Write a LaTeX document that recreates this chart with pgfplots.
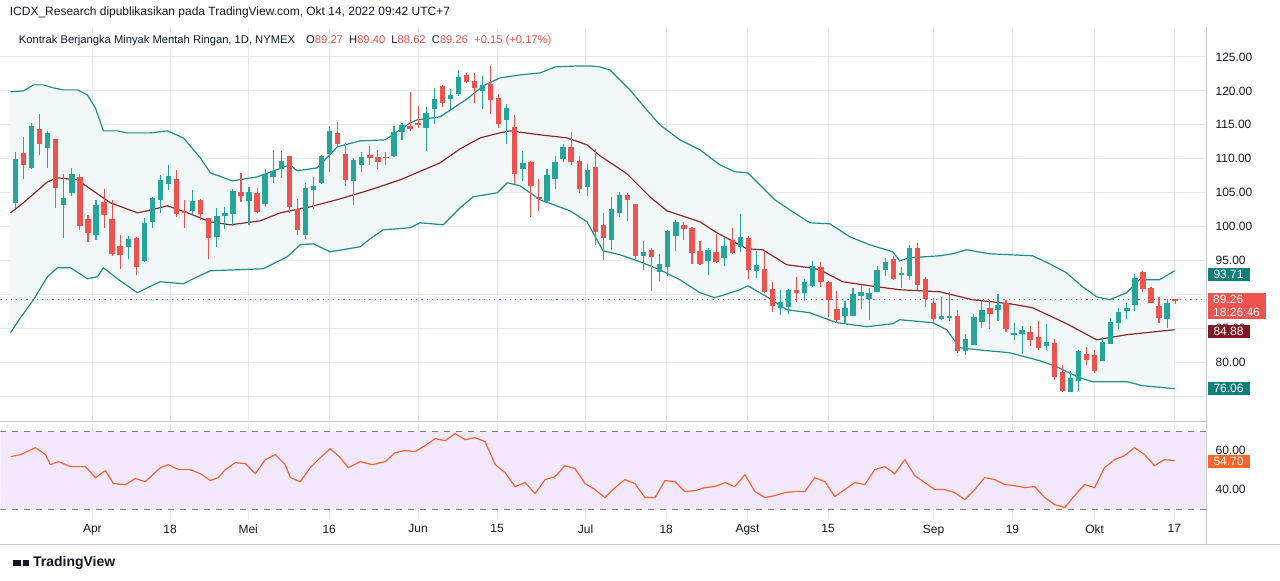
\documentclass[border=0pt]{standalone}
\usepackage{pgfplots}
\pgfplotsset{compat=1.18}
\usepackage{pgfplotstable}
\usepgfplotslibrary{fillbetween}
\usepackage{fontspec}
\setmainfont{Liberation Sans}
\definecolor{up}{RGB}{38,166,154}
\definecolor{dn}{RGB}{239,83,80}
\definecolor{bb}{RGB}{32,140,140}
\definecolor{bbfill}{RGB}{242,248,248}
\definecolor{ma}{RGB}{140,40,40}
\definecolor{mabox}{RGB}{128,25,34}
\definecolor{bbbox}{RGB}{18,128,122}
\definecolor{gridc}{RGB}{228,234,240}
\definecolor{txt}{RGB}{19,23,34}
\definecolor{rsi}{RGB}{255,100,50}
\definecolor{rsifill}{RGB}{243,232,253}
\definecolor{rsibox}{RGB}{255,100,40}
% pixel readings: i top bottom high low
\pgfplotstableread{
i top bot hi lo
1 159 203 152 208
3 126 168 123 169
5 133 148 131 168
7 198 205 174 238
8 174 193 168 196
11 205 235 200 240
15 239 247 236 259
17 223 261 218 262
18 198 222 197 228
19 180 200 175 213
20 176 184 165 190
23 201 211 190 215
26 216 237 208 247
27 213 216 207 229
28 191 214 189 226
30 192 201 187 225
32 174 204 169 207
33 171 177 150 183
34 161 169 151 178
37 188 235 183 239
38 186 190 177 209
39 156 183 155 184
40 131 154 126 172
43 160 181 158 205
44 157 165 152 172
48 132 156 126 157
49 125 132 123 140
52 113 128 107 151
53 99 109 88 124
55 95 99 89 111
56 77 94 70 96
59 85 91 76 109
62 108 120 104 144
64 163 169 151 181
67 175 201 169 202
68 162 179 156 189
69 147 159 144 162
72 170 187 164 196
75 209 240 197 250
76 195 213 192 217
79 252 256 241 270
81 264 272 254 281
82 231 267 230 276
83 222 236 220 251
87 250 261 248 275
89 246 258 237 266
91 237 247 214 252
93 265 271 251 278
96 302 308 290 315
97 290 307 289 314
99 282 293 279 301
100 266 286 261 287
104 308 316 301 323
105 294 316 288 316
106 292 296 285 309
107 293 299 288 320
108 270 292 266 292
109 262 270 258 276
111 273 275 267 288
112 248 276 245 280
116 316 319 297 320
117 316 318 292 321
119 339 351 334 355
120 317 345 314 345
121 310 322 301 328
123 305 310 294 321
125 333 335 323 340
126 330 334 326 354
129 342 346 324 350
132 378 392 371 392
133 351 381 350 391
136 342 361 337 361
137 322 344 318 344
138 312 323 308 329
139 308 311 303 319
140 278 305 274 311
144 303 319 299 328
}\greentab
\pgfplotstableread{
i top bot hi lo
2 153 165 137 179
4 129 144 114 155
6 139 188 139 208
9 177 226 174 230
10 219 233 215 242
12 202 215 189 228
13 219 254 200 256
14 246 255 235 269
16 238 267 237 275
21 179 214 170 217
22 211 213 200 228
24 200 214 199 220
25 218 238 218 259
29 192 196 173 202
31 193 212 188 213
35 156 207 156 213
36 209 230 199 235
41 133 144 122 147
42 154 180 143 186
45 155 158 146 165
46 157 162 150 169
47 157 158 152 165
50 126 129 92 131
51 123 125 106 128
54 86 103 85 107
57 75 82 73 83
58 81 88 73 103
60 84 100 66 114
61 98 124 94 128
63 127 174 115 184
65 162 186 161 217
66 197 199 179 211
70 147 162 132 165
71 161 189 156 193
73 167 232 149 245
74 225 238 213 260
77 195 200 193 221
78 204 256 204 259
80 250 257 248 291
84 225 229 222 240
85 228 253 227 264
86 251 264 241 265
88 252 262 234 263
90 240 253 228 254
92 238 270 236 279
94 269 292 250 293
95 289 306 282 312
98 290 293 277 302
101 267 282 262 287
102 282 300 281 317
103 309 320 291 323
110 259 279 256 280
113 248 285 243 290
114 279 299 277 307
115 303 319 298 322
118 316 351 310 353
122 308 314 300 329
124 303 329 300 332
127 332 340 326 346
128 337 348 321 350
130 343 377 339 380
131 372 391 365 392
134 354 360 347 365
135 355 371 350 373
141 272 289 271 292
142 288 303 287 303
143 306 318 297 323
145 300 300.5 299 304
}\redtab
\pgfplotstableread{
x y
10 92
23 91
33 85
43 85
53 88
63 90
77 90
87 95
95 108
103 131
117 131
127 133
150 133
167 131
183 138
200 158
210 173
232 181
257 177
290 165
297 171
317 168
337 147
360 141
385 140
410 123
417 120
440 117
467 99
483 86
500 78
520 75
540 73
555 67
580 66
590 66
600 67
610 70
620 80
630 90
645 108
660 125
680 140
700 150
720 165
735 172
748 173
760 185
775 200
790 210
810 223
830 224
850 237
870 245
893 252
900 261
910 258
940 256
953 254
967 250
990 254
1033 256
1050 264
1067 273
1083 287
1097 297
1110 300
1127 293
1140 280
1160 280
1175 271
}\uppertab
\pgfplotstableread{
x y
10 333
20 318
33 300
47 277
57 268
70 268
87 279
97 277
103 268
117 279
137 293
147 288
160 282
183 284
193 279
210 271
263 269
287 257
300 245
313 244
330 252
360 247
370 239
383 230
410 228
420 223
443 225
460 208
473 197
497 193
507 183
520 186
540 200
570 211
587 222
603 251
620 255
640 262
660 270
680 280
700 293
715 298
740 290
748 286
767 297
787 310
810 313
837 323
867 327
893 324
900 320
933 323
947 330
960 348
977 350
1010 353
1040 361
1057 367
1080 378
1093 382
1127 382
1143 386
1175 389
}\lowertab
\pgfplotstableread{
x y
10 213
23 203
47 182
57 178
77 180
97 194
110 203
137 213
147 211
167 206
187 213
210 222
230 225
260 221
280 213
310 207
340 199
370 190
400 180
440 163
460 149
480 138
500 133
510 131
540 135
567 138
587 145
600 156
627 174
650 197
667 211
700 222
717 233
747 249
763 250
787 265
810 268
820 270
843 282
870 286
900 290
940 292
973 300
1010 304
1033 308
1067 324
1097 340
1127 335
1175 330
}\matab
\pgfplotstableread{
x y
10 457
20 455
35 448
45 455
50 465
58 462
70 467
85 467
95 478
105 471
113 484
125 485
135 479
145 482
160 468
168 465
178 470
190 470
200 474
210 481
218 478
225 470
235 463
245 464
255 474
265 460
275 455
285 465
290 478
300 482
310 468
320 458
330 449
340 458
348 468
360 462
372 465
385 462
395 453
405 451
415 452
425 446
435 439
445 441
455 434
465 440
475 438
485 442
495 465
505 473
515 487
525 483
535 494
545 480
555 477
565 466
575 469
585 484
595 490
605 498
615 488
625 480
635 484
645 498
655 498
665 481
675 482
685 492
695 491
705 488
715 487
725 483
735 487
745 475
755 492
765 498
775 496
785 493
795 492
805 492
815 478
825 482
835 497
845 490
855 483
865 485
875 470
885 467
895 474
905 460
915 476
925 483
935 490
945 490
955 493
965 500
975 490
985 478
995 480
1005 485
1015 486
1025 488
1035 487
1045 498
1055 505
1065 508
1075 496
1085 485
1095 488
1105 468
1115 460
1125 456
1135 448
1145 455
1155 466
1165 460
1175 461
}\rsitab
\pgfplotsset{
  tvbase/.style={
    scale only axis, width=603.5pt, xmin=-0.86, xmax=148.9,
    axis line style={draw=none}, tick style={draw=none},
    grid=both, major grid style={gridc, line width=0.5pt},
    xtick={10.55,20.2,29.9,39.96,51.0,60.8,71.8,81.8,91.9,101.9,115.0,124.8,135.0,144.9},
    xticklabels={Apr,18,Mei,16,Jun,15,Jul,18,Agst,15,Sep,19,Okt,17},
    yticklabel pos=right,
    ticklabel style={font=\fontsize{6}{7}\selectfont, text=txt},
  },
  candle/.style={draw=none, no markers, error bars/.cd, y dir=both, y explicit, error mark=none},
  /pgfplots/table/px/.style={x expr=(\thisrow{x}-15)/8.06+1, y expr=125-(\thisrow{y}-57)/6.8},
  /pgfplots/table/wick/.style={x=i, y expr=125-((\thisrow{hi}+\thisrow{lo})/2-57)/6.8, y error expr=(\thisrow{lo}-\thisrow{hi})/2/6.8},
  /pgfplots/table/body/.style={x=i, y expr=125-((\thisrow{top}+\thisrow{bot})/2-57)/6.8, y error expr={max((\thisrow{bot}-\thisrow{top})/2,0.6)/6.8}},
}
\begin{document}
\begin{tikzpicture}
\path (0,0) rectangle (640pt,290.5pt);
% main pane
\begin{axis}[tvbase, at={(0,80.5pt)}, anchor=south west, height=196pt,
  ymin=71.62, ymax=129.26, ytick={75,80,...,125},
  yticklabels={,80.00,85.00,,95.00,100.00,105.00,110.00,115.00,120.00,125.00},
  xticklabels={}, yticklabel style={xshift=1pt, anchor=west}]
\addplot[name path=up, bb, line width=0.6pt] table[px] {\uppertab};
\addplot[name path=lo, bb, line width=0.6pt] table[px] {\lowertab};
\addplot[bbfill] fill between[of=up and lo];
\addplot[ma, line width=0.6pt] table[px] {\matab};
\addplot[dn, dotted, line width=0.6pt] coordinates {(-0.86,89.26) (148.9,89.26)};
\addplot[candle, error bar style={up, line width=0.55pt}] table[wick] {\greentab};
\addplot[candle, error bar style={dn, line width=0.55pt}] table[wick] {\redtab};
\addplot[candle, error bar style={up, line width=2.7pt, line cap=butt}] table[body] {\greentab};
\addplot[candle, error bar style={dn, line width=2.7pt, line cap=butt}] table[body] {\redtab};
\end{axis}
% rsi pane
\begin{axis}[tvbase, at={(0,30.5pt)}, anchor=south west, height=48pt,
  ymin=24.6, ymax=73.85, ytick={40,60}, yticklabels={40.00,60.00},
  yticklabel style={xshift=1pt, anchor=west}, xticklabel style={yshift=1pt}]
\fill[rsifill] (axis cs:-0.86,30) rectangle (axis cs:148.9,70);
\addplot[gray, dashed, line width=0.5pt] coordinates {(-0.86,70) (148.9,70)};
\addplot[gray, dashed, line width=0.5pt] coordinates {(-0.86,30) (148.9,30)};
\addplot[rsi, line width=0.6pt] table[x expr=(\thisrow{x}-15)/8.06+1, y expr=60-(\thisrow{y}-451)/1.95] {\rsitab};
\end{axis}
% frame lines
\draw[gridc!70!gray, line width=0.5pt] (603.5pt,18pt) -- (603.5pt,277pt);
\draw[gridc!70!gray, line width=0.5pt] (0,18pt) -- (640pt,18pt);
\draw[gridc!70!gray, line width=0.5pt] (0,79.5pt) -- (603.5pt,79.5pt);
% price boxes
\tikzset{pbox/.style={anchor=west, inner xsep=2pt, inner ysep=1.2pt, text=white, font=\fontsize{6}{6.5}\selectfont}}
\node[pbox, fill=bbbox, minimum width=21pt] at (603.8pt,{(581-275)*0.5pt}) {93.71};
\node[pbox, fill=dn, minimum width=29pt, align=left] at (603.8pt,{(581-306)*0.5pt}) {89.26\\18:26:46};
\node[pbox, fill=mabox, minimum width=21pt] at (603.8pt,{(581-332)*0.5pt}) {84.88};
\node[pbox, fill=bbbox, minimum width=21pt] at (603.8pt,{(581-389)*0.5pt}) {76.06};
\node[pbox, fill=rsibox, minimum width=21pt] at (603.8pt,{(581-462)*0.5pt}) {54.70};
% texts
\node[anchor=west, inner sep=0, font=\fontsize{6}{7}\selectfont, text=txt] at (4.5pt,{(581-12)*0.5pt}) {ICDX\_Research dipublikasikan pada TradingView.com, Okt 14, 2022 09:42 UTC+7};
\node[anchor=west, inner sep=0, font=\fontsize{5.6}{7}\selectfont, text=txt] at (9pt,{(581-41)*0.5pt}) {Kontrak Berjangka Minyak Mentah Ringan, 1D, NYMEX\quad O\textcolor{dn}{89.27}\ \ H\textcolor{dn}{89.40}\ \ L\textcolor{dn}{88.62}\ \ C\textcolor{dn}{89.26}\ \ \textcolor{dn}{+0.15 (+0.17\%)}};
\node[anchor=west, inner sep=0, font=\fontsize{7}{8}\selectfont\bfseries, text=txt] at (6pt,{(581-563)*0.5pt}) {\rule{4pt}{3pt}\,\rule{3pt}{3pt}\ TradingView};
\end{tikzpicture}
\end{document}
